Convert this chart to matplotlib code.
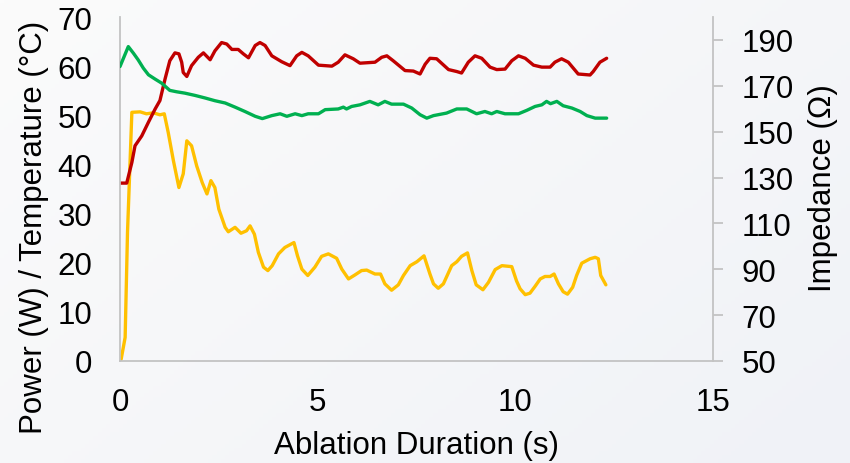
import numpy as np
import matplotlib
matplotlib.use('Agg')
import matplotlib.pyplot as plt

plt.rcParams['font.family'] = ['Liberation Sans', 'DejaVu Sans']

# temperature (degC), left axis
temp_t = [0.00, 0.17, 0.30, 0.38, 0.55, 0.72, 0.89, 1.01, 1.14, 1.26, 1.39, 1.49, 1.56, 1.60,
          1.69, 1.81, 1.98, 2.11, 2.28, 2.40, 2.57, 2.70, 2.83, 2.99, 3.12, 3.25, 3.42, 3.54,
          3.67, 3.84, 4.09, 4.30, 4.47, 4.60, 4.76, 5.02, 5.36, 5.52, 5.69, 5.90, 6.07, 6.45,
          6.62, 6.75, 6.91, 7.21, 7.42, 7.59, 7.72, 7.84, 8.01, 8.31, 8.52, 8.64, 8.81, 8.98,
          9.15, 9.36, 9.53, 9.74, 9.91, 10.08, 10.25, 10.46, 10.67, 10.88, 11.00, 11.17, 11.34,
          11.59, 11.89, 11.97, 12.14, 12.31]
temp = [36.2, 36.2, 40.4, 43.8, 45.8, 48.6, 51.3, 53.0, 57.4, 61.1, 62.7, 62.5, 60.8, 58.7,
        57.9, 60.1, 61.8, 62.7, 61.3, 63.1, 64.8, 64.5, 63.4, 63.4, 62.5, 61.7, 64.2, 64.8,
        64.2, 62.1, 60.9, 60.1, 62.1, 62.8, 62.1, 60.2, 60.0, 60.8, 62.3, 61.5, 60.6, 60.8,
        61.8, 62.1, 61.1, 59.1, 59.0, 58.4, 60.4, 61.6, 61.5, 59.3, 58.9, 58.6, 60.8, 62.1,
        61.6, 59.8, 59.3, 59.4, 61.1, 62.1, 61.6, 60.2, 59.8, 59.8, 60.8, 61.5, 60.8,
        58.4, 58.2, 58.9, 60.8, 61.6]

# power (W), left axis
power_t = [0.00, 0.03, 0.13, 0.19, 0.30, 0.51, 0.67, 0.84, 1.01, 1.12, 1.22, 1.35, 1.49, 1.60,
           1.69, 1.81, 1.94, 2.08, 2.20, 2.30, 2.40, 2.50, 2.66, 2.74, 2.91, 3.06, 3.20, 3.29,
           3.40, 3.50, 3.63, 3.74, 3.85, 4.01, 4.17, 4.40, 4.49, 4.60, 4.75, 4.93, 5.10, 5.27,
           5.48, 5.61, 5.78, 5.94, 6.11, 6.24, 6.45, 6.59, 6.70, 6.87, 7.04, 7.17, 7.34, 7.51,
           7.69, 7.84, 7.93, 8.05, 8.18, 8.39, 8.52, 8.64, 8.79, 8.90, 9.01, 9.18, 9.32, 9.49,
           9.66, 9.91, 10.03, 10.12, 10.25, 10.37, 10.50, 10.63, 10.75, 10.88, 10.98, 11.09,
           11.21, 11.32, 11.45, 11.55, 11.68, 11.89, 12.02, 12.10, 12.16, 12.29]
power = [0.0, 0.4, 4.8, 26.2, 50.6, 50.7, 50.3, 50.5, 50.1, 50.3, 46.5, 40.8, 35.3, 38.1,
         44.8, 43.8, 39.7, 36.3, 34.0, 36.7, 35.3, 30.9, 27.2, 26.3, 27.2, 26.0, 26.5, 27.5,
         25.8, 22.1, 19.1, 18.4, 19.4, 21.8, 23.1, 24.1, 21.4, 18.7, 17.4, 19.1, 21.3, 21.8,
         20.9, 18.7, 16.7, 17.5, 18.4, 18.5, 17.7, 17.7, 15.7, 14.4, 15.5, 17.4, 19.4, 20.2,
         21.4, 17.7, 15.7, 14.8, 15.7, 19.4, 20.2, 21.3, 22.0, 18.4, 15.5, 14.5, 16.0, 18.6,
         19.4, 19.2, 16.3, 14.7, 13.5, 13.8, 15.2, 16.7, 17.2, 17.2, 17.7, 15.7,
         14.1, 13.6, 15.0, 17.4, 19.9, 20.8, 21.1, 20.8, 17.4, 15.5]

# impedance (ohm), right axis
imp_t = [0.00, 0.21, 0.34, 0.46, 0.59, 0.72, 0.89, 1.05, 1.26, 1.43, 1.64, 1.90, 2.15, 2.40,
         2.66, 2.91, 3.16, 3.42, 3.60, 3.84, 4.05, 4.22, 4.43, 4.60, 4.76, 5.02, 5.19, 5.52,
         5.65, 5.73, 5.86, 6.07, 6.32, 6.53, 6.70, 6.87, 7.17, 7.38, 7.59, 7.76, 7.93, 8.26,
         8.52, 8.77, 9.02, 9.23, 9.40, 9.53, 9.74, 10.08, 10.29, 10.50, 10.67, 10.79, 10.89,
         11.05, 11.21, 11.43, 11.64, 11.81, 12.02, 12.31]
imp = [178.4, 187.1, 184.2, 181.3, 177.7, 174.8, 172.9, 171.2, 168.0, 167.4, 166.8, 165.8,
       164.7, 163.5, 162.5, 160.7, 158.8, 156.7, 155.7, 157.0, 157.8, 156.7, 157.8, 157.0,
       157.8, 157.8, 159.6, 159.9, 160.7, 159.9, 161.0, 161.7, 163.2, 161.7, 163.2, 162.0,
       162.0, 160.3, 157.4, 155.9, 157.0, 158.1, 159.9, 159.9, 157.8, 158.8, 157.8, 158.8,
       157.8, 157.8, 159.3, 161.0, 161.7, 163.2, 162.2, 163.2, 161.3, 160.3, 158.8, 157.0,
       155.9, 155.9]

left_ticks = [0, 10, 20, 30, 40, 50, 60, 70]
right_ticks = [50, 70, 90, 110, 130, 150, 170, 190]
x_ticks = [0, 5, 10, 15]

spine_gray = '#c3c3c3'
fs = 22.5
lw = 2.4

fig = plt.figure(figsize=(8.5, 4.64), dpi=100)

# soft diagonal background
bg = fig.add_axes([0, 0, 1, 1], zorder=-10)
gx, gy = np.meshgrid(np.linspace(0, 1, 200), np.linspace(0, 1, 120))
g = (gx * 0.6 + gy * 0.4)[..., None]
c0 = np.array([251, 251, 251]) / 255.
c1 = np.array([240, 242, 247]) / 255.
bg.imshow(c0 + (c1 - c0) * g, aspect='auto', extent=[0, 1, 0, 1], origin='upper')
bg.axis('off')

ax = fig.add_axes([120 / 850, 1 - 362 / 464, 593 / 850, 344 / 464])
ax.set_facecolor('none')
ax.plot(power_t, power, color='#FFC000', lw=lw, solid_joinstyle='round', solid_capstyle='round')
ax.plot(temp_t, temp, color='#C00000', lw=lw, solid_joinstyle='round', solid_capstyle='round')
ax.set_xlim(0, 15)
ax.set_ylim(0, 70)
ax.set_xticks(x_ticks)
ax.set_yticks(left_ticks)
ax.tick_params(axis='both', length=0, labelsize=fs, colors='black')
ax.tick_params(axis='y', pad=20)
ax.tick_params(axis='x', pad=19)
for s in ['top', 'right']:
    ax.spines[s].set_visible(False)
for s in ['left', 'bottom']:
    ax.spines[s].set_color(spine_gray)
    ax.spines[s].set_linewidth(1.3)

ax2 = ax.twinx()
ax2.plot(imp_t, imp, color='#00B050', lw=lw, solid_joinstyle='round', solid_capstyle='round')
ax2.set_ylim(50, 200)
ax2.set_yticks(right_ticks)
ax2.tick_params(axis='y', length=7, width=1.3, color=spine_gray, labelsize=fs,
                labelcolor='black', pad=13.5)
for s in ['top', 'left', 'bottom']:
    ax2.spines[s].set_visible(False)
ax2.spines['right'].set_color(spine_gray)
ax2.spines['right'].set_linewidth(1.3)

ax.set_xlabel('Ablation Duration (s)', fontsize=fs, va='center')
ax.xaxis.set_label_coords(0.5, -0.245)
ax.set_ylabel('Power (W) / Temperature (\u00b0C)', fontsize=fs, va='center')
ax.yaxis.set_label_coords(-0.145, 0.39)
ax2.set_ylabel('Impedance (\u03a9)', fontsize=fs, va='center')
ax2.yaxis.set_label_coords(1.185, 0.506)

fig.savefig('out.png', dpi=100)
